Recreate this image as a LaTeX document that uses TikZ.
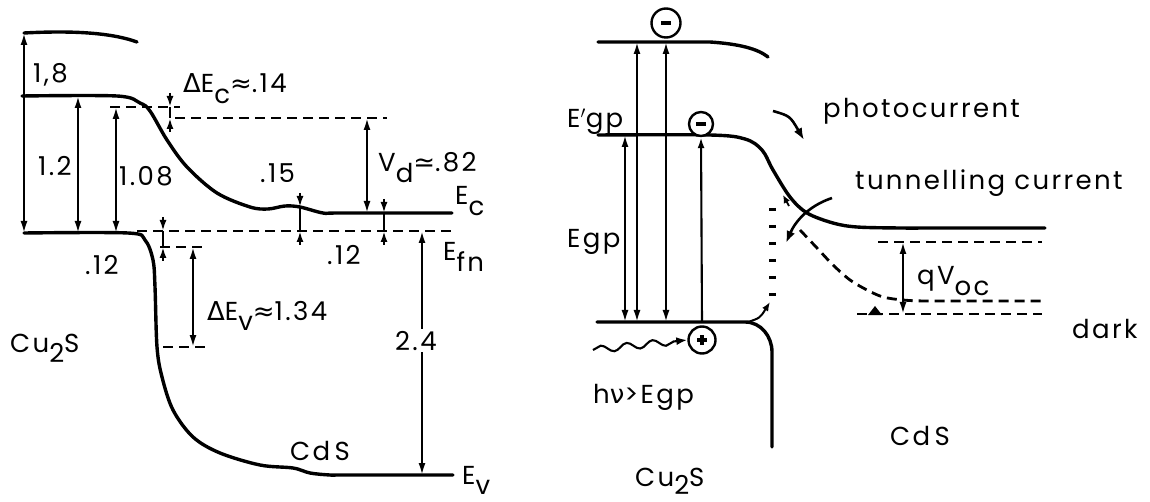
\documentclass[tikz,border=0pt]{standalone}
\usepackage{fontspec}
\setmainfont{Poppins}[LetterSpace=9]
\newfontfamily\symf{DejaVu Sans}
\usetikzlibrary{arrows.meta,decorations.pathmorphing}
\newcommand\lowsub[1]{\raisebox{-0.42em}{#1}}
\begin{document}
\begin{tikzpicture}[x=1pt,y=-1pt,
  band/.style={line width=3.4pt,line cap=round,line join=round},
  dim/.style={line width=2.1pt,{Latex[length=12pt,width=7pt]}-{Latex[length=12pt,width=7pt]}},
  one/.style={line width=2.1pt,-{Latex[length=11pt,width=7pt]}},
  dsh/.style={line width=2.8pt,dash pattern=on 10pt off 6pt},
  lbl/.style={inner sep=0pt,anchor=base west,font=\fontsize{26}{29}\selectfont},
  chg/.style={circle,draw,line width=2.4pt,minimum size=24pt,inner sep=0pt,fill=white}
]
\useasboundingbox (0,0) rectangle (1150,502);

% ================= LEFT DIAGRAM =================
\draw[band] (24,33) .. controls (80,30) and (115,34) .. (137,42);
\draw[band] plot[smooth,tension=0.55] coordinates {(22,96) (117,96) (140,103) (150,111) (167,140) (187,167) (217,193) (250,207) (268,209) (285,206) (300,207) (323,213) (340,213) (452,213)};
\draw[band] plot[smooth,tension=0.55] coordinates {(24,233) (128,233) (145,240) (153,260) (155,287) (157,347) (162,377) (173,410) (193,437) (220,453) (260,465) (293,468) (310,473) (330,475) (345,475) (453,475)};
\draw[dsh] (137,231) -- (452,231);
\draw[dsh] (175,118) -- (387,118);
\draw[dsh] (110,107) -- (180,107);
\draw[dsh] (160,247) -- (208,247);
\draw[dsh] (163,347) -- (205,347);

\coordinate (g1t) at (24,33);  \coordinate (g1b) at (24,233);
\coordinate (g2t) at (78,96);  \coordinate (g2b) at (78,233);
\coordinate (g3t) at (116,107); \coordinate (g3b) at (116,233);
\coordinate (vdt) at (367,118); \coordinate (vdb) at (367,213);
\coordinate (evt) at (193,247); \coordinate (evb) at (193,347);
\coordinate (fnt) at (422,231); \coordinate (fnb) at (422,475);
\draw[dim] (g1t) -- (g1b);
\draw[dim] (g2t) -- (g2b);
\draw[dim] (g3t) -- (g3b);
\draw[dim] (vdt) -- (vdb);
\draw[dim] (evt) -- (evb);
\draw[dim] (fnt) -- (fnb);

\foreach \x/\a/\b in {170/107/118, 300/207/231, 384/213/231, 163/231/247}{
  \draw[one] (\x,\a-14) -- (\x,\a);
  \draw[one] (\x,\b+14) -- (\x,\b);
  \draw[line width=2.1pt] (\x,\a) -- (\x,\b);
}

\node[lbl] (l18) at (33,83) {1,8};
\node[lbl] (l12) at (38,176) {1.2};
\node[lbl] (l108) at (119,186) {1.08};
\node[lbl] (ldec) at (183,93) {{\symf Δ}E\lowsub{c}{\symf ≈}.14};
\node[lbl] (lvd) at (378,172) {V\lowsub{d}{\symf ≃}.82};
\node[lbl] (l15) at (260,183) {.15};
\node[lbl] (l12r) at (327,265) {.12};
\node[lbl] (l12l) at (85,275) {.12};
\node[lbl] (lec) at (455,205) {E\lowsub{c}};
\node[lbl] (lefn) at (443,261) {E\lowsub{fn}};
\node[lbl] (ldev) at (207,320) {{\symf Δ}E\lowsub{v}{\symf ≈}1.34};
\node[lbl,fill=white,inner sep=2pt] (l24) at (393,350) {2.4};
\node[lbl] (lcu) at (10,352) {Cu\lowsub{2}S};
\node[lbl] (lcds) at (290,460) {Cd\,S};
\node[lbl] (lev) at (462,484) {E\lowsub{v}};

% ================= RIGHT DIAGRAM =================
\draw[band] (598,42) -- (710,42) .. controls (740,44) and (758,49) .. (768,57);
\draw[band] plot[smooth,tension=0.55] coordinates {(598,135) (710,135) (745,139) (762,150) (773,170) (790,197) (807,213) (833,223) (857,227) (900,228) (940,228) (1045,228)};
\draw[band] (597,322) -- (745,322) to[out=0,in=90] (772,352) -- (772,447);
\draw[line width=7pt,dash pattern=on 3.5pt off 13.5pt] (772,208) -- (772,300);
\draw[line width=2pt,-{Latex[length=9pt,width=7pt]}] (748,322) .. controls (760,318) .. (770,302);
\draw[dsh] plot[smooth,tension=0.5] coordinates {(800,230) (817,248) (833,265) (850,280) (867,290) (883,297) (903,300) (930,301) (1042,301)};
\draw[dsh] (878,242) -- (1042,242);
\draw[dsh] (857,314) -- (1042,314);
\fill (868,315) -- (875,306) -- (882,315) -- cycle;
\coordinate (qt) at (903,242); \coordinate (qb) at (903,314);
\draw[dim] (qt) -- (qb);

\node[chg,minimum size=29pt] (m1) at (666,23) {};
\node[chg] (m2) at (701,124) {};
\node[chg,minimum size=27pt] (p1) at (702,340) {};
\draw[line width=3.2pt] ([xshift=-5pt]m1.center) -- ([xshift=5pt]m1.center);
\draw[line width=3.2pt] ([xshift=-5pt]m2.center) -- ([xshift=5pt]m2.center);
\draw[line width=3.2pt] ([xshift=-5pt]p1.center) -- ([xshift=5pt]p1.center);
\draw[line width=3.2pt] ([yshift=-5pt]p1.center) -- ([yshift=5pt]p1.center);

\coordinate (t1t) at (625,135); \coordinate (t1b) at (625,322);
\coordinate (t2t) at (637,42);  \coordinate (t2b) at (637,322);
\coordinate (t3t) at (666,42);  \coordinate (t3b) at (666,322);
\coordinate (t4b) at (702,322);
\draw[dim] (t1t) -- (t1b);
\draw[dim] (t2t) -- (t2b);
\draw[dim] (t3t) -- (t3b);
\draw[one] (t4b) -- (m2.south);

\draw[line width=2.1pt,decorate,decoration={snake,amplitude=3.5pt,segment length=26pt,post length=12pt},-{Latex[length=11pt,width=8pt]}] (593,350) -- (p1.west);

\draw[line width=2.6pt,-{Latex[length=12pt,width=9pt]}] (773,111) .. controls (790,116) .. (804,140);
\draw[line width=2.6pt,-{Latex[length=12pt,width=9pt]}] (832,198) .. controls (808,206) and (795,222) .. (786,243);
\draw[line width=1.8pt,-{Latex[length=8pt,width=7pt]}] (789,206) -- (783,195);

\node[lbl] (legp2) at (567,128) {E$'$gp};
\node[lbl] (legp) at (567,248) {Egp};
\node[lbl] (lphoto) at (823,118) {photocurrent};
\node[lbl] (ltun) at (855,190) {tunnelling current};
\node[lbl] (lqv) at (917,285) {qV\lowsub{oc}};
\node[lbl] (ldark) at (1072,338) {dark};
\node[lbl] (lhv) at (593,403) {h{\symf ν}>Egp};
\node[lbl] (lcds2) at (890,445) {Cd\,S};
\node[lbl] (lcu2) at (635,486) {Cu\raisebox{-0.34em}{2}S};
\end{tikzpicture}
\end{document}
